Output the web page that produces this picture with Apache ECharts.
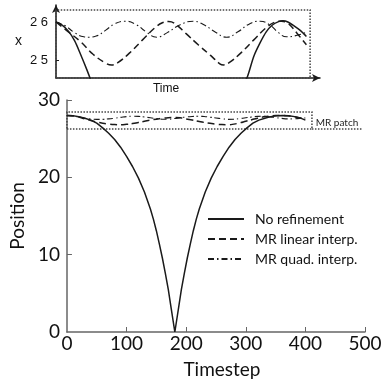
<!DOCTYPE html>
<html><head><meta charset="utf-8">
<script src="https://cdn.jsdelivr.net/npm/echarts@6/dist/echarts.min.js"></script>
<style>html,body{margin:0;padding:0;background:#fff}#c{width:387px;height:386px}</style>
</head><body><div id="c"></div>
<script>
// ---- Data ----
const seriesNames = ['No refinement', 'MR linear interp.', 'MR quad. interp.'];
const mainTicksX = [0, 100, 200, 300, 400, 500];
const mainTicksY = [0, 10, 20, 30];
const topTickValues = [2.5, 2.6];
const topTickLabels = ['2 5', '2 6'];

// main chart: no refinement
const mainSolidT = [0,10,20,30,40,50,60,70,80,90,100,110,120,130,140,145,150,155,160,165,170,175,181,187,192,197,202,207,212,217,222,232,242,252,262,272,282,292,302,312,322,332,342,352,362,372,382,392,400];
const mainSolidY = [28.0,27.95,27.85,27.65,27.4,27.0,26.4,25.7,24.9,23.9,22.7,21.4,19.9,18.1,15.9,14.6,13.1,11.4,9.6,7.6,5.5,3.0,0,3.0,5.5,7.6,9.6,11.4,13.1,14.6,15.9,18.1,19.9,21.4,22.7,23.9,24.9,25.7,26.4,27.0,27.4,27.65,27.85,27.95,28.0,27.95,27.85,27.65,27.4];
// main chart: MR linear / quad
const mainMRT = [0,10,20,30,40,50,60,70,80,90,100,110,120,130,140,150,160,170,180,190,200,210,220,230,240,250,260,270,280,290,300,310,320,330,340,350,360,370,380,390,400];
const mainLinearY = [28.0,27.95,27.8,27.55,27.35,27.15,27.0,26.9,26.83,26.8,26.85,26.95,27.1,27.25,27.4,27.52,27.63,27.72,27.75,27.7,27.55,27.4,27.25,27.1,26.98,26.88,26.82,26.8,26.88,27.05,27.25,27.45,27.65,27.82,27.93,27.98,28.0,27.95,27.85,27.7,27.55];
const mainQuadY = [28.0,27.93,27.8,27.65,27.55,27.5,27.5,27.56,27.65,27.75,27.85,27.9,27.88,27.8,27.7,27.6,27.52,27.52,27.6,27.7,27.8,27.87,27.9,27.86,27.78,27.68,27.58,27.5,27.52,27.6,27.7,27.8,27.88,27.9,27.82,27.72,27.62,27.56,27.57,27.62,27.68];
// MR patch box
const patchT = [0, 411];
const patchY = [26.26, 28.46];
const patchLabelEndT = 495;

// top inset
const topSolidT = [0,10,20,30,40,50,60,70,180,290,300,310,320,330,340,350,360,367,375,385,395,405];
const topSolidY = [2.600,2.592,2.576,2.551,2.514,2.474,2.43,2.38,null,2.37,2.42,2.458,2.51,2.545,2.574,2.592,2.601,2.603,2.600,2.590,2.578,2.562];
const topLinearT = [0,20,40,60,80,90,100,120,140,160,172,182,192,210,230,250,265,271,280,300,320,340,355,365,375,390,405];
const topLinearY = [2.600,2.574,2.548,2.515,2.492,2.487,2.493,2.520,2.553,2.585,2.598,2.601,2.596,2.570,2.540,2.512,2.490,2.487,2.493,2.520,2.553,2.585,2.600,2.602,2.597,2.570,2.540];
const topQuadT = [0,15,30,45,52,65,80,95,112,130,145,163,180,200,222,240,258,276,295,313,330,345,360,373,390,405];
const topQuadY = [2.600,2.590,2.572,2.561,2.560,2.563,2.578,2.595,2.602,2.593,2.575,2.560,2.572,2.592,2.602,2.592,2.573,2.560,2.575,2.595,2.602,2.593,2.572,2.561,2.565,2.573];
const topBoxT = [0, 411];
const topBoxY = [2.45263, 2.6316];

const zip = (a, b) => a.map((v, i) => [v, b[i]]);

const INK = '#1a1a1a';
const MAINFONT = 'Lato';
const styles = [
  { width: 1.5, type: 'solid' },
  { width: 1.5, type: [7, 4] },
  { width: 1.1, type: [6, 3, 1.5, 3] }
];

const chart = echarts.init(document.getElementById('c'), null, { renderer: 'canvas' });
chart.setOption({
  animation: false,
  backgroundColor: '#fff',
  grid: [
    { left: 56, top: 5, width: 264, height: 73 },
    { left: 56, top: 100, width: 309, height: 232 }
  ],
  legend: {
    data: seriesNames,
    orient: 'vertical',
    left: 202, top: 207,
    itemWidth: 36, itemHeight: 12, itemGap: 6,
    itemStyle: { opacity: 0 },
    textStyle: { fontFamily: MAINFONT, fontSize: 14, color: '#111', padding: [0, 0, 0, 6] },
    selectedMode: false
  },
  xAxis: [
    { gridIndex: 0, type: 'value', min: 0, max: 427,
      name: 'Time', nameLocation: 'middle', nameGap: 5,
      nameTextStyle: { fontFamily: 'Liberation Sans', fontSize: 12, color: '#111', padding: [0, 44, 0, 0] },
      axisLine: { lineStyle: { color: INK, width: 1.5 }, symbol: ['none', 'arrow'], symbolSize: [6, 8] },
      axisTick: { show: false }, axisLabel: { show: false }, splitLine: { show: false } },
    { gridIndex: 1, type: 'value', min: 0, max: 500, interval: 100,
      name: 'Timestep', nameLocation: 'middle', nameGap: 28,
      nameTextStyle: { fontFamily: MAINFONT, fontSize: 19, color: '#111', padding: [0, 0, 0, 12] },
      axisLine: { lineStyle: { color: '#666', width: 1.5 } },
      axisTick: { inside: true, length: 5, lineStyle: { color: '#666' }, customValues: mainTicksX.slice(1) },
      axisLabel: { fontFamily: MAINFONT, fontSize: 19, color: '#111', margin: 2, customValues: mainTicksX },
      splitLine: { show: false } }
  ],
  yAxis: [
    { gridIndex: 0, type: 'value', min: 2.45263, max: 2.6447,
      name: 'x', nameLocation: 'middle', nameGap: 34, nameRotate: 0,
      nameTextStyle: { fontFamily: 'Liberation Sans', fontSize: 14, color: '#111' },
      axisLine: { lineStyle: { color: INK, width: 1.5 }, symbol: ['none', 'arrow'], symbolSize: [6, 8] },
      axisTick: { inside: true, length: 3, lineStyle: { color: INK }, customValues: topTickValues },
      axisLabel: { fontFamily: 'Liberation Sans', fontSize: 13, color: '#111', margin: 8,
        customValues: topTickValues,
        formatter: v => topTickLabels[topTickValues.findIndex(t => Math.abs(t - v) < 1e-6)] || '' },
      splitLine: { show: false } },
    { gridIndex: 1, type: 'value', min: 0, max: 30, interval: 10,
      name: 'Position', nameLocation: 'middle', nameGap: 28,
      nameTextStyle: { fontFamily: MAINFONT, fontSize: 19, color: '#111' },
      axisLine: { lineStyle: { color: '#666', width: 1.5 } },
      axisTick: { inside: true, length: 5, lineStyle: { color: '#666' }, customValues: mainTicksY.slice(1) },
      axisLabel: { fontFamily: MAINFONT, fontSize: 19, color: '#111', margin: 7, customValues: mainTicksY },
      splitLine: { show: false } }
  ],
  series: [
    // main
    { name: seriesNames[0], type: 'line', xAxisIndex: 1, yAxisIndex: 1, symbol: 'none', smooth: false,
      data: zip(mainSolidT, mainSolidY), lineStyle: { color: INK, ...styles[0] }, itemStyle: { color: INK }, z: 5,
      markArea: { silent: true,
        itemStyle: { color: 'rgba(0,0,0,0)', borderColor: '#444', borderWidth: 1.5, borderType: [1.5, 1.5] },
        data: [[{ coord: [patchT[0], patchY[0]] }, { coord: [patchT[1], patchY[1]] }]] },
      markLine: { silent: true, symbol: 'none',
        lineStyle: { color: '#444', width: 1.5, type: [1.5, 1.5] },
        label: { show: true, formatter: 'MR patch', position: 'insideMiddleTop', distance: 1,
          fontFamily: MAINFONT, fontSize: 10, color: '#222' },
        data: [[{ coord: [patchT[1], patchY[0]] }, { coord: [patchLabelEndT, patchY[0]] }]] } },
    { name: seriesNames[1], type: 'line', xAxisIndex: 1, yAxisIndex: 1, symbol: 'none', smooth: true,
      data: zip(mainMRT, mainLinearY), lineStyle: { color: INK, ...styles[1] }, itemStyle: { color: INK } },
    { name: seriesNames[2], type: 'line', xAxisIndex: 1, yAxisIndex: 1, symbol: 'none', smooth: true,
      data: zip(mainMRT, mainQuadY), lineStyle: { color: INK, ...styles[2] }, itemStyle: { color: INK } },
    // top inset
    { name: seriesNames[0], type: 'line', xAxisIndex: 0, yAxisIndex: 0, symbol: 'none', smooth: 0.3, clip: true,
      data: zip(topSolidT, topSolidY), lineStyle: { color: INK, ...styles[0] }, itemStyle: { color: INK },
      markArea: { silent: true,
        itemStyle: { color: 'rgba(0,0,0,0)', borderColor: '#444', borderWidth: 1.5, borderType: [1.5, 1.5] },
        data: [[{ coord: [topBoxT[0], topBoxY[0]] }, { coord: [topBoxT[1], topBoxY[1]] }]] } },
    { name: seriesNames[1], type: 'line', xAxisIndex: 0, yAxisIndex: 0, symbol: 'none', smooth: 0.4, clip: true,
      data: zip(topLinearT, topLinearY), lineStyle: { color: INK, ...styles[1] }, itemStyle: { color: INK } },
    { name: seriesNames[2], type: 'line', xAxisIndex: 0, yAxisIndex: 0, symbol: 'none', smooth: true, clip: true,
      data: zip(topQuadT, topQuadY), lineStyle: { color: INK, ...styles[2] }, itemStyle: { color: INK } }
  ]
});
</script></body></html>
